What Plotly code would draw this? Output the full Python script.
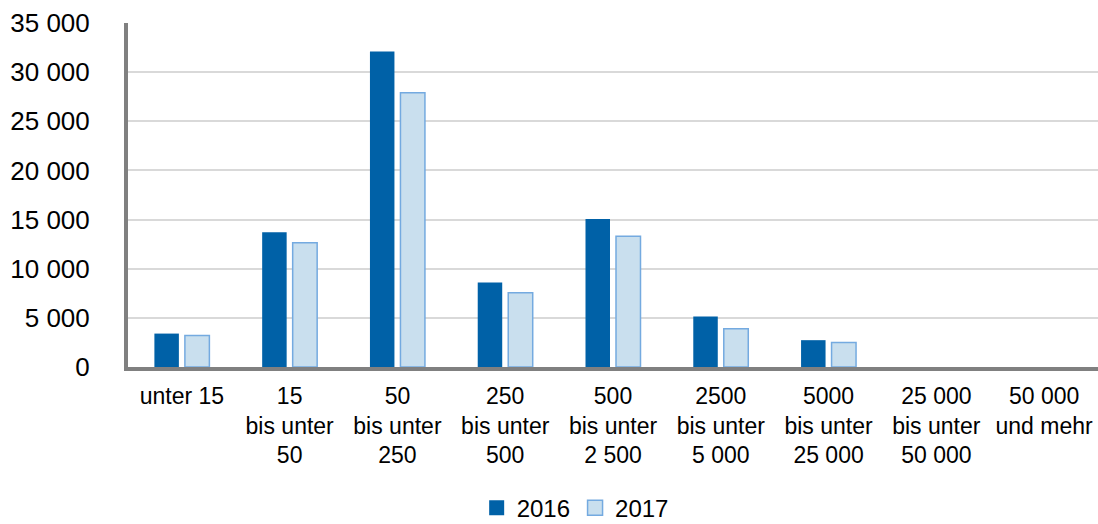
import plotly.graph_objects as go

categories = ["unter 15", "15<br>bis unter<br>50", "50<br>bis unter<br>250", "250<br>bis unter<br>500",
              "500<br>bis unter<br>2 500", "2500<br>bis unter<br>5 000", "5000<br>bis unter<br>25 000",
              "25 000<br>bis unter<br>50 000", "50 000<br>und mehr"]
values_2016 = [3400, 13700, 32100, 8600, 15050, 5130, 2730, 0, 0]
values_2017 = [3200, 12650, 27900, 7550, 13300, 3880, 2490, 0, 0]
y_ticks = [0, 5000, 10000, 15000, 20000, 25000, 30000, 35000]
y_tick_labels = ["0", "5 000", "10 000", "15 000", "20 000", "25 000", "30 000", "35 000"]

c2016 = "#0061a7"
c2017 = "#c9dfee"
c2017_line = "#74aae0"

fig = go.Figure()
fig.add_trace(go.Bar(name="2016", x=categories, y=values_2016, showlegend=False,
                     marker=dict(color=c2016, line=dict(width=0))))
fig.add_trace(go.Bar(name="2017", x=categories, y=values_2017, showlegend=False,
                     marker=dict(color=c2017,
                                 line=dict(color=c2017_line,
                                           width=[1.5 if v > 0 else 0 for v in values_2017]))))
# legend entries
fig.add_trace(go.Scatter(name="2016", x=[None], y=[None], mode="markers",
                         marker=dict(symbol="square", size=15, color=c2016, line=dict(width=0))))
fig.add_trace(go.Scatter(name="2017", x=[None], y=[None], mode="markers",
                         marker=dict(symbol="square", size=15, color=c2017,
                                     line=dict(color=c2017_line, width=1.5))))

fig.update_layout(
    width=1098, height=524,
    margin=dict(l=128, r=0, t=23, b=157, autoexpand=False),
    plot_bgcolor="white", paper_bgcolor="white",
    barmode="group", bargap=0.434, bargroupgap=0.197,
    font=dict(family="Liberation Sans, Arial, sans-serif", color="#000000"),
    showlegend=True,
    legend=dict(orientation="h", x=0.461, xanchor="center", y=-0.345, yanchor="top",
                font=dict(size=24), itemsizing="trace", traceorder="normal",
                itemwidth=30, tracegroupgap=0),
)
fig.update_yaxes(range=[0, 35000], tickvals=y_ticks, ticktext=y_tick_labels,
                 showgrid=True, gridcolor="#d9d9d9", gridwidth=2,
                 showline=True, linecolor="#808080", linewidth=4,
                 zeroline=False, tickfont=dict(size=26), ticklabelstandoff=29,
                 automargin=False, layer="above traces")
fig.update_xaxes(showline=True, linecolor="#808080", linewidth=4,
                 tickfont=dict(size=23), ticklabelstandoff=5, tickangle=0,
                 automargin=False, layer="above traces")

fig.write_html("out.html", config={"displayModeBar": False},
               post_script="document.body.style.margin='0';document.body.style.padding='0';")
